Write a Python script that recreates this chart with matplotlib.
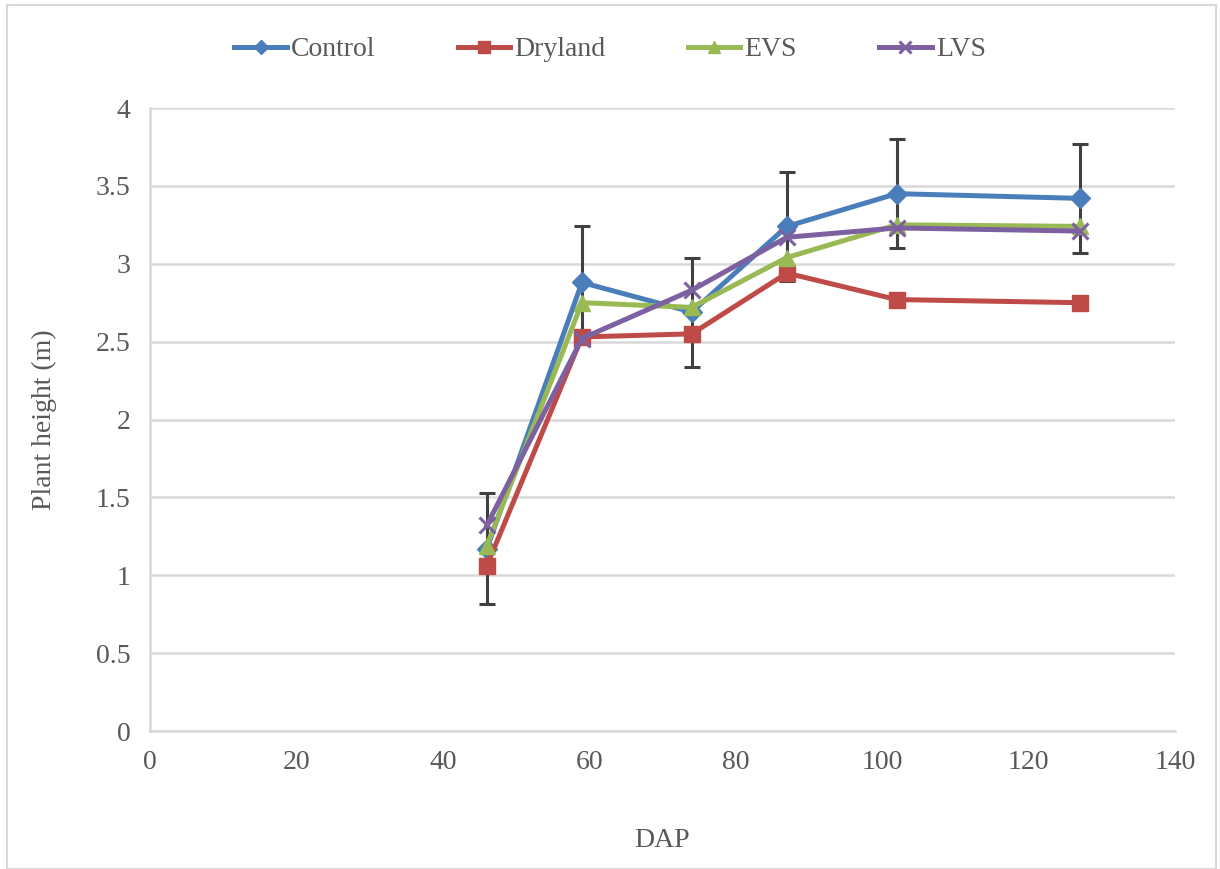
import matplotlib
matplotlib.use("Agg")
import matplotlib.pyplot as plt
from matplotlib.patches import Rectangle

# days after planting and mean plant height (m) per treatment
dap = [46, 59, 74, 87, 102, 127]
control = [1.17, 2.88, 2.69, 3.24, 3.45, 3.42]
dryland = [1.06, 2.53, 2.55, 2.94, 2.77, 2.75]
evs = [1.19, 2.75, 2.72, 3.04, 3.25, 3.24]
lvs = [1.32, 2.52, 2.83, 3.17, 3.23, 3.21]
control_err = [0.355, 0.36, 0.35, 0.35, 0.35, 0.35]

series = [
    ("Control", control, "#4a7ebb", "D", 10),
    ("Dryland", dryland, "#be4b48", "s", 12),
    ("EVS", evs, "#98b954", "^", 12),
    ("LVS", lvs, "#7d60a0", "x", 11),
]

plt.rcParams["font.family"] = ["Liberation Serif", "DejaVu Serif"]
txt = "#595959"
grid = "#d9d9d9"

fig = plt.figure(figsize=(12.2, 8.69), dpi=100)
ax = fig.add_axes([0.123, 0.1588, 0.840, 0.7169])

# error bars for the control series sit underneath the lines
ax.errorbar(dap, control, yerr=control_err, fmt="none", ecolor="#404040",
            elinewidth=2.2, capsize=6, capthick=2.2, zorder=2)

for i, (name, vals, col, mk, ms) in enumerate(series):
    kw = dict(markerfacecolor=col, markeredgecolor=col)
    if mk == "x":
        kw["markeredgewidth"] = 2.2
    ax.plot(dap, vals, color=col, lw=3.6, marker=mk, markersize=ms,
            label=name, zorder=3 + i, **kw)

ax.set_xlim(0, 140)
ax.set_ylim(0, 4)
ax.set_xticks(range(0, 141, 20))
ax.set_yticks([0, 0.5, 1, 1.5, 2, 2.5, 3, 3.5, 4])
ax.set_yticklabels(["0", "0.5", "1", "1.5", "2", "2.5", "3", "3.5", "4"])
ax.grid(axis="y", color=grid, lw=1.8)
ax.set_axisbelow(True)
for s in ["top", "right"]:
    ax.spines[s].set_visible(False)
for s in ["left", "bottom"]:
    ax.spines[s].set_color(grid)
    ax.spines[s].set_linewidth(1.8)
ax.tick_params(length=0, labelsize=20, labelcolor=txt)
ax.tick_params(axis="x", pad=14)
ax.tick_params(axis="y", pad=14)

ax.set_xlabel("DAP", fontsize=20, color=txt, labelpad=38)
ax.set_ylabel("Plant height (m)", fontsize=20, color=txt, labelpad=28)

leg = fig.legend(loc="center", bbox_to_anchor=(0.5, 0.943), ncol=4, frameon=False,
                 fontsize=20, handlelength=1.9, handletextpad=0.15,
                 columnspacing=2.95, markerscale=0.75)
for t in leg.get_texts():
    t.set_color(txt)

# thin frame around the whole chart area
fig.patches.append(Rectangle((0.006, 0.0), 0.991, 0.994, transform=fig.transFigure,
                             fill=False, edgecolor=grid, lw=1.5))

fig.savefig("out.png", dpi=100)
